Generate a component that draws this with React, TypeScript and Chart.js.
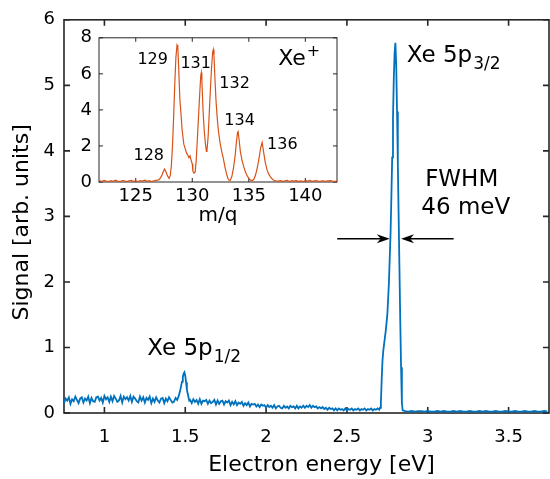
import React, { useEffect, useRef } from "react";
import { Chart, registerables } from "chart.js";

Chart.register(...registerables);

const BLUE = "#0072BD";
const ORANGE = "#D95319";
const AXIS = "#262626";
const FONT = "'DejaVu Sans', Verdana, sans-serif";

/* ---------------- main photoelectron spectrum ---------------- */
const energyMin = 0.75;
const energyMax = 3.75;
const energyTicks = [1, 1.5, 2, 2.5, 3, 3.5];
const signalTicks = [0, 1, 2, 3, 4, 5, 6];
const energyTitle = "Electron energy [eV]";
const signalTitle = "Signal [arb. units]";

// 0.75 .. 1.44 eV, 0.01 eV sampling
const lowStart = 0.75;
const lowStep = 0.01;
const lowSignal = [
  0.15, 0.22, 0.19, 0.24, 0.14, 0.21, 0.18, 0.25, 0.2, 0.15,
  0.22, 0.24, 0.16, 0.22, 0.19, 0.25, 0.15, 0.23, 0.18, 0.17,
  0.24, 0.25, 0.19, 0.23, 0.16, 0.26, 0.21, 0.24, 0.17, 0.25,
  0.18, 0.26, 0.22, 0.17, 0.19, 0.26, 0.16, 0.25, 0.21, 0.24,
  0.19, 0.26, 0.17, 0.25, 0.22, 0.18, 0.16, 0.25, 0.19, 0.24,
  0.16, 0.23, 0.2, 0.25, 0.15, 0.22, 0.17, 0.24, 0.19, 0.16,
  0.22, 0.23, 0.15, 0.22, 0.18, 0.24, 0.2, 0.16, 0.17, 0.23,
];
// Xe 5p1/2 line
const p12Energy = [1.45, 1.46, 1.47, 1.48, 1.485, 1.49, 1.495, 1.5, 1.505, 1.51, 1.52, 1.525];
const p12Signal = [0.2, 0.26, 0.36, 0.48, 0.55, 0.6, 0.62, 0.57, 0.47, 0.36, 0.24, 0.19];
// 1.53 .. 2.70 eV, 0.01 eV sampling
const midStart = 1.53;
const midStep = 0.01;
const midSignal = [
  0.2, 0.15, 0.21, 0.17, 0.2, 0.14, 0.21, 0.14, 0.19, 0.18,
  0.2, 0.14, 0.19, 0.15, 0.17, 0.2, 0.13, 0.19, 0.14, 0.18,
  0.19, 0.13, 0.18, 0.16, 0.19, 0.12, 0.17, 0.13, 0.18, 0.12,
  0.16, 0.14, 0.17, 0.11, 0.15, 0.12, 0.16, 0.1, 0.14, 0.13,
  0.14, 0.1, 0.13, 0.09, 0.13, 0.11, 0.12, 0.08, 0.12, 0.09,
  0.11, 0.08, 0.12, 0.07, 0.1, 0.11, 0.08, 0.07, 0.11, 0.08,
  0.1, 0.07, 0.11, 0.09, 0.1, 0.07, 0.11, 0.07, 0.1, 0.08,
  0.11, 0.08, 0.11, 0.09, 0.12, 0.08, 0.11, 0.09, 0.1, 0.07,
  0.09, 0.07, 0.09, 0.06, 0.08, 0.05, 0.08, 0.06, 0.07, 0.04,
  0.07, 0.04, 0.07, 0.05, 0.06, 0.04, 0.07, 0.04, 0.06, 0.05,
  0.07, 0.04, 0.06, 0.05, 0.07, 0.04, 0.06, 0.05, 0.07, 0.04,
  0.06, 0.05, 0.07, 0.04, 0.06, 0.05, 0.07, 0.05,
];
// Xe 5p3/2 line
const p32Energy = [
  2.705, 2.71, 2.715, 2.72, 2.725, 2.73, 2.74, 2.75, 2.76, 2.77, 2.775, 2.78,
  2.785, 2.79, 2.795, 2.8, 2.805, 2.81, 2.815, 2.82, 2.825, 2.83, 2.835, 2.84, 2.845,
];
const p32Signal = [
  0.08, 0.15, 0.5, 0.8, 0.95, 1.05, 1.25, 1.5, 2.0, 2.75, 3.3, 3.9,
  4.5, 5.1, 5.5, 5.65, 5.3, 4.6, 3.8, 3.0, 2.2, 1.4, 0.7, 0.15, 0.04,
];
// 2.86 .. 3.74 eV, 0.02 eV sampling
const highStart = 2.86;
const highStep = 0.02;
const highSignal = [
  0.03, 0.02, 0.03, 0.02, 0.03, 0.03, 0.02, 0.03, 0.02, 0.02,
  0.03, 0.02, 0.03, 0.02, 0.02, 0.03, 0.02, 0.03, 0.02, 0.02,
  0.03, 0.02, 0.02, 0.03, 0.02, 0.03, 0.02, 0.02, 0.03, 0.02,
  0.02, 0.03, 0.02, 0.02, 0.03, 0.02, 0.02, 0.03, 0.02, 0.02,
  0.03, 0.02, 0.02, 0.03, 0.02,
];

/* ---------------- inset: Xe+ mass spectrum ---------------- */
const massMin = 121.75;
const massMax = 142.8;
const massTicks = [125, 130, 135, 140];
const ionTicks = [0, 2, 4, 6, 8];
const massTitle = "m/q";

const ionLowStart = 121.8;
const ionLowStep = 0.2;
const ionLowSignal = [
  0.08, 0.03, 0.09, 0.05, 0.02, 0.07, 0.04, 0.1, 0.05, 0.03,
  0.08, 0.06, 0.02, 0.07, 0.09, 0.04, 0.06, 0.03, 0.08, 0.05,
  0.1, 0.04, 0.07, 0.03, 0.06, 0.09, 0.12,
];
const ionPeakMass = [
  127.1, 127.3, 127.45, 127.55, 127.65, 127.8, 127.95, 128.05, 128.15, 128.25,
  128.35, 128.45, 128.55, 128.65, 128.72, 128.8, 128.9, 129.0, 129.1, 129.25,
  129.4, 129.5, 129.6, 129.7, 129.8, 129.9, 130.0, 130.05, 130.15, 130.25,
  130.35, 130.45, 130.55, 130.65, 130.75, 130.8, 130.85, 130.95, 131.05, 131.15,
  131.25, 131.3, 131.4, 131.5, 131.6, 131.7, 131.8, 131.86, 131.92, 132.0,
  132.1, 132.2, 132.3, 132.45, 132.6, 132.75, 132.9, 133.05, 133.2, 133.35,
  133.5, 133.65, 133.8, 133.9, 134.0, 134.05, 134.15, 134.25, 134.4, 134.55,
  134.7, 134.85, 135.0, 135.15, 135.3, 135.45, 135.6, 135.75, 135.9, 136.05,
  136.18, 136.3, 136.45, 136.6, 136.75, 136.9, 137.05, 137.2, 137.4,
];
const ionPeakSignal = [
  0.15, 0.35, 0.6, 0.72, 0.6, 0.35, 0.2, 0.35, 0.9, 2.0,
  3.6, 5.4, 6.9, 7.6, 7.5, 6.3, 4.6, 3.8, 2.9, 2.1,
  1.8, 1.6, 1.5, 1.35, 1.45, 1.2, 1.0, 0.6, 0.5, 0.55,
  1.2, 2.4, 3.6, 4.8, 5.9, 6.07, 5.6, 4.0, 2.9, 2.2,
  1.7, 1.75, 2.5, 3.8, 5.1, 6.3, 7.2, 7.35, 7.0, 5.8,
  4.5, 3.6, 2.9, 2.2, 1.7, 1.3, 0.8, 0.4, 0.12, 0.08,
  0.3, 0.8, 1.5, 2.2, 2.75, 2.8, 2.3, 1.7, 1.2, 0.85,
  0.55, 0.35, 0.2, 0.1, 0.08, 0.15, 0.4, 0.8, 1.3, 1.9,
  2.2, 1.7, 1.1, 0.7, 0.45, 0.3, 0.18, 0.1, 0.06,
];
const ionHighStart = 137.6;
const ionHighStep = 0.2;
const ionHighSignal = [
  0.05, 0.08, 0.04, 0.06, 0.09, 0.03, 0.07, 0.05, 0.08, 0.04,
  0.06, 0.03, 0.07, 0.05, 0.09, 0.04, 0.06, 0.08, 0.03, 0.05,
  0.07, 0.04, 0.06, 0.08, 0.05, 0.03, 0.06,
];

/* ---------------- text annotations ---------------- */
type Note = { text: string; sub?: string; sup?: string; x: number; y: number; size: number; align: CanvasTextAlign };
const mainNotes: Note[] = [
  { text: "Xe 5p", sub: "3/2", x: 2.87, y: 5.45, size: 23, align: "left" },
  { text: "Xe 5p", sub: "1/2", x: 1.265, y: 0.97, size: 23, align: "left" },
  { text: "FWHM", x: 3.21, y: 3.55, size: 23, align: "center" },
  { text: "46 meV", x: 3.235, y: 3.13, size: 23, align: "center" },
];
const fwhmArrows = [
  { from: 2.44, to: 2.765, y: 2.66 },
  { from: 3.16, to: 2.835, y: 2.66 },
];
const insetNotes: Note[] = [
  { text: "129", x: 126.5, y: 6.79, size: 16, align: "center" },
  { text: "131", x: 130.3, y: 6.53, size: 16, align: "center" },
  { text: "132", x: 133.74, y: 5.47, size: 16, align: "center" },
  { text: "134", x: 134.18, y: 3.42, size: 16, align: "center" },
  { text: "128", x: 126.15, y: 1.47, size: 16, align: "center" },
  { text: "136", x: 137.97, y: 2.05, size: 16, align: "center" },
  { text: "Xe", sup: "+", x: 137.6, y: 6.79, size: 22, align: "left" },
];

function grid(start: number, step: number, values: number[]) {
  return values.map((v, i) => ({ x: +(start + i * step).toFixed(4), y: v }));
}
function pairs(xs: number[], ys: number[]) {
  return xs.map((x, i) => ({ x, y: ys[i] }));
}

const mainPoints = [
  ...grid(lowStart, lowStep, lowSignal),
  ...pairs(p12Energy, p12Signal),
  ...grid(midStart, midStep, midSignal),
  ...pairs(p32Energy, p32Signal),
  ...grid(highStart, highStep, highSignal),
];
const insetPoints = [
  ...grid(ionLowStart, ionLowStep, ionLowSignal),
  ...pairs(ionPeakMass, ionPeakSignal),
  ...grid(ionHighStart, ionHighStep, ionHighSignal),
];

function framePlugin(xt: number[], yt: number[], lw: number, len: number) {
  return {
    id: "frameTicks",
    beforeDatasetsDraw(chart: any) {
      const { ctx, chartArea: a, scales } = chart;
      const x = scales.x;
      const y = scales.y;
      ctx.save();
      ctx.strokeStyle = AXIS;
      ctx.lineWidth = lw;
      ctx.beginPath();
      for (const v of xt) {
        const px = x.getPixelForValue(v);
        ctx.moveTo(px, a.bottom);
        ctx.lineTo(px, a.bottom - len);
        ctx.moveTo(px, a.top);
        ctx.lineTo(px, a.top + len);
      }
      for (const v of yt) {
        const py = y.getPixelForValue(v);
        ctx.moveTo(a.left, py);
        ctx.lineTo(a.left + len, py);
        ctx.moveTo(a.right, py);
        ctx.lineTo(a.right - len, py);
      }
      ctx.stroke();
      ctx.strokeRect(a.left, a.top, a.right - a.left, a.bottom - a.top);
      ctx.restore();
    },
  };
}

// axis titles, drawn centred on the full (uncropped) axes box
function axisTitlesPlugin(xText: string, yText: string, size: number) {
  return {
    id: "axisTitles",
    afterDraw(chart: any) {
      const { ctx, chartArea: a } = chart;
      ctx.save();
      ctx.font = `${size}px ${FONT}`;
      ctx.fillStyle = "#000";
      ctx.textAlign = "center";
      ctx.textBaseline = "middle";
      ctx.fillText(xText, (a.left + a.right) / 2 + 15, a.bottom + 52);
      ctx.translate(22, (a.top + a.bottom) / 2 + 6);
      ctx.rotate(-Math.PI / 2);
      ctx.fillText(yText, 0, 0);
      ctx.restore();
    },
  };
}

function notesPlugin(notes: Note[], arrows: { from: number; to: number; y: number }[]) {
  return {
    id: "notes",
    afterDraw(chart: any) {
      const { ctx, scales } = chart;
      const x = scales.x;
      const y = scales.y;
      ctx.save();
      ctx.fillStyle = "#000";
      ctx.textBaseline = "middle";
      for (const n of notes) {
        const px = x.getPixelForValue(n.x);
        const py = y.getPixelForValue(n.y);
        ctx.font = `${n.size}px ${FONT}`;
        const w = ctx.measureText(n.text).width;
        const small = Math.round(n.size * 0.74);
        ctx.textAlign = "left";
        const left = n.align === "center" ? px - w / 2 : px;
        ctx.fillText(n.text, left, py);
        if (n.sub) {
          ctx.font = `${small}px ${FONT}`;
          ctx.fillText(n.sub, left + w + 1, py + n.size * 0.36);
        }
        if (n.sup) {
          ctx.font = `${small}px ${FONT}`;
          ctx.fillText(n.sup, left + w + 1, py - n.size * 0.34);
        }
      }
      ctx.strokeStyle = "#000";
      ctx.lineWidth = 1.5;
      for (const ar of arrows) {
        const x0 = x.getPixelForValue(ar.from);
        const x1 = x.getPixelForValue(ar.to);
        const py = y.getPixelForValue(ar.y);
        const dir = Math.sign(x1 - x0);
        ctx.beginPath();
        ctx.moveTo(x0, py);
        ctx.lineTo(x1 - dir * 6, py);
        ctx.stroke();
        ctx.beginPath();
        ctx.moveTo(x1, py);
        ctx.lineTo(x1 - dir * 13, py - 4.5);
        ctx.lineTo(x1 - dir * 9, py);
        ctx.lineTo(x1 - dir * 13, py + 4.5);
        ctx.closePath();
        ctx.fillStyle = "#000";
        ctx.fill();
      }
      ctx.restore();
    },
  };
}

function fixedTicks(values: number[]) {
  return (s: any) => {
    s.ticks = values.map((v) => ({ value: v }));
  };
}
const plainLabel = (v: any) => String(v);

export default function App() {
  const mainRef = useRef<HTMLCanvasElement>(null);
  const insetRef = useRef<HTMLCanvasElement>(null);

  useEffect(() => {
    const main = new Chart(mainRef.current!, {
      type: "line",
      data: {
        datasets: [
          {
            data: mainPoints,
            borderColor: BLUE,
            borderWidth: 1.8,
            pointRadius: 0,
            tension: 0,
          },
        ],
      },
      options: {
        animation: false,
        responsive: false,
        devicePixelRatio: 1,
        layout: { padding: { top: 11, right: 1, left: 0, bottom: 0 } },
        plugins: { legend: { display: false }, tooltip: { enabled: false } },
        scales: {
          x: {
            type: "linear",
            min: energyMin,
            max: energyMax,
            afterBuildTicks: fixedTicks(energyTicks),
            afterFit: (s: any) => {
              s.height = 66;
            },
            grid: { display: false, drawTicks: false },
            border: { display: false },
            ticks: {
              font: { family: FONT, size: 18 },
              color: "#000",
              padding: 14,
              maxRotation: 0,
              autoSkip: false,
              callback: plainLabel,
            },
          },
          y: {
            type: "linear",
            min: 0,
            max: 6,
            afterBuildTicks: fixedTicks(signalTicks),
            afterFit: (s: any) => {
              s.width = 64;
            },
            grid: { display: false, drawTicks: false },
            border: { display: false },
            ticks: { font: { family: FONT, size: 18 }, color: "#000", padding: 9, callback: plainLabel },
          },
        },
      },
      plugins: [
        framePlugin(energyTicks, signalTicks, 1.6, 6),
        axisTitlesPlugin(energyTitle, signalTitle, 22),
        notesPlugin(mainNotes, fwhmArrows),
      ],
    } as any);

    const inset = new Chart(insetRef.current!, {
      type: "line",
      data: {
        datasets: [
          {
            data: insetPoints,
            borderColor: ORANGE,
            borderWidth: 1.2,
            pointRadius: 0,
            tension: 0,
          },
        ],
      },
      options: {
        animation: false,
        responsive: false,
        devicePixelRatio: 1,
        layout: { padding: { top: 10, right: 13, left: 0, bottom: 0 } },
        plugins: { legend: { display: false }, tooltip: { enabled: false } },
        scales: {
          x: {
            type: "linear",
            min: massMin,
            max: massMax,
            afterBuildTicks: fixedTicks(massTicks),
            afterFit: (s: any) => {
              s.height = 48;
            },
            grid: { display: false, drawTicks: false },
            border: { display: false },
            ticks: {
              font: { family: FONT, size: 18 },
              color: "#000",
              padding: 4,
              maxRotation: 0,
              autoSkip: false,
              callback: plainLabel,
            },
            title: {
              display: true,
              text: massTitle,
              font: { family: FONT, size: 20 },
              color: "#000",
              padding: { top: 0, bottom: 2 },
            },
          },
          y: {
            type: "linear",
            min: 0,
            max: 8,
            afterBuildTicks: fixedTicks(ionTicks),
            afterFit: (s: any) => {
              s.width = 59;
            },
            grid: { display: false, drawTicks: false },
            border: { display: false },
            ticks: { font: { family: FONT, size: 18 }, color: "#000", padding: 7, callback: plainLabel },
          },
        },
      },
      plugins: [framePlugin(massTicks, ionTicks, 1, 4), notesPlugin(insetNotes, [])],
    } as any);

    return () => {
      main.destroy();
      inset.destroy();
    };
  }, []);

  return (
    <div style={{ position: "fixed", left: 0, top: 0, width: 550, height: 479, background: "#fff" }}>
      <canvas ref={mainRef} width={550} height={479} style={{ position: "absolute", left: 0, top: 0 }} />
      <canvas ref={insetRef} width={310} height={210} style={{ position: "absolute", left: 40, top: 20 }} />
    </div>
  );
}
